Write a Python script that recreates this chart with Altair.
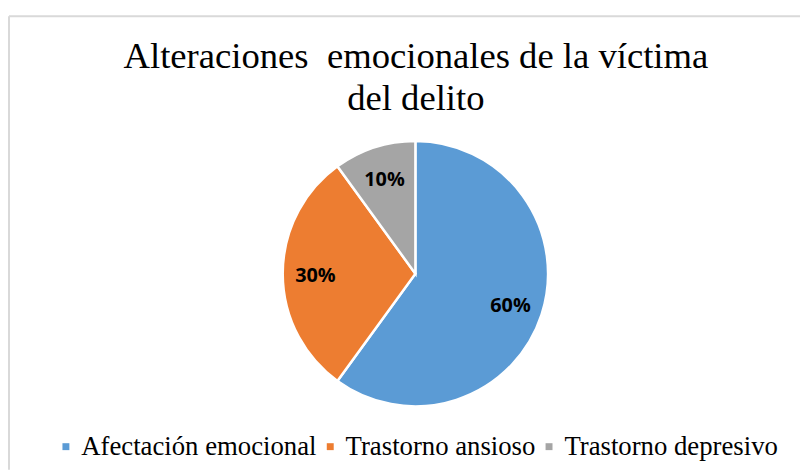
import altair as alt
import pandas as pd

categories = ["Afectación emocional", "Trastorno ansioso", "Trastorno depresivo"]
values = [60, 30, 10]
colors = ["#5B9BD5", "#ED7D31", "#A5A5A5"]
title_lines = ["Alteraciones\u00a0 emocionales de la víctima", "del delito"]

df = pd.DataFrame({"categoria": categories, "valor": values,
                   "orden": list(range(len(categories)))})
one = pd.DataFrame({"k": [0]})

CX, CY = 411.5, 266
SERIF = "Liberation Serif, Times New Roman, serif"

base = alt.Chart(df).transform_calculate(etiqueta="datum.valor + '%'")

arcs = base.mark_arc(radius=134, stroke="white", strokeWidth=2.5).encode(
    theta=alt.Theta("valor:Q", stack=True),
    color=alt.Color(
        "categoria:N",
        scale=alt.Scale(domain=categories, range=colors),
        legend=alt.Legend(
            orient="none", legendX=45, legendY=427, direction="horizontal",
            title=None, symbolType="square", symbolSize=49, symbolStrokeWidth=0,
            labelFont=SERIF, labelFontSize=27, labelColor="black",
            labelLimit=400, labelOffset=2, columnPadding=0, padding=0,
        ),
    ),
    order=alt.Order("orden:Q"),
    x=alt.value(CX), y=alt.value(CY),
)

labels = base.mark_text(radius=101, font="Open Sans", fontWeight="bold",
                        fontSize=20, color="black", dy=2).encode(
    theta=alt.Theta("valor:Q", stack=True),
    order=alt.Order("orden:Q"),
    text="etiqueta:N",
    x=alt.value(CX), y=alt.value(CY),
)

title = alt.Chart(one).mark_text(font=SERIF, fontSize=37, color="black",
                                 baseline="top", align="center", lineHeight=43).encode(
    x=alt.value(412), y=alt.value(29), text=alt.value(title_lines)
)

top_border = alt.Chart(one).mark_rule(color="#D9D9D9", strokeWidth=2).encode(
    x=alt.value(1), x2=alt.value(800), y=alt.value(6)
)
left_border = alt.Chart(one).mark_rule(color="#D9D9D9", strokeWidth=2).encode(
    x=alt.value(1), y=alt.value(6), y2=alt.value(464)
)

chart = alt.layer(top_border, left_border, title, arcs, labels).properties(
    width=800, height=464, padding=0,
    autosize=alt.AutoSizeParams(type="none"),
).configure_view(stroke=None)

chart.save("out.html", embed_options={"renderer": "svg", "actions": False})
